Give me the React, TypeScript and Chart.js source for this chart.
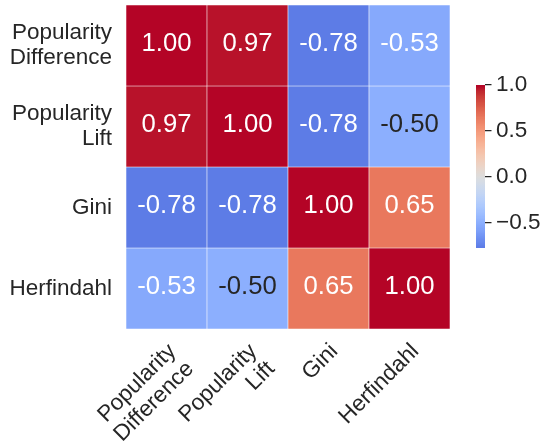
import React, { useEffect, useRef } from 'react';
import { Chart, registerables } from 'chart.js';

Chart.register(...registerables);

// ---------- data ----------
const rowLabels: (string | string[])[] = [['Popularity', 'Difference'], ['Popularity', 'Lift'], 'Gini', 'Herfindahl'];
const colLabels: (string | string[])[] = [['Popularity', 'Difference'], ['Popularity', 'Lift'], 'Gini', 'Herfindahl'];

const rowPopularityDifference = [1.0, 0.97, -0.78, -0.53];
const rowPopularityLift = [0.97, 1.0, -0.78, -0.5];
const rowGini = [-0.78, -0.78, 1.0, 0.65];
const rowHerfindahl = [-0.53, -0.5, 0.65, 1.0];
const matrix = [rowPopularityDifference, rowPopularityLift, rowGini, rowHerfindahl];

const colorbarTicks = [-0.5, 0.0, 0.5, 1.0];

// ---------- colormap (matplotlib coolwarm) ----------
const CW_R = [0.2298057, 0.26623388, 0.30386891, 0.342804478, 0.38301334, 0.424369608, 0.46666708, 0.509635204, 0.552953156, 0.596262162, 0.639176211, 0.681291281, 0.722193294, 0.761464949, 0.798691636, 0.833466556, 0.865395197, 0.897787179, 0.924127593, 0.944468518, 0.958852946, 0.96732803, 0.969954137, 0.966811177, 0.958003065, 0.943660866, 0.923944917, 0.89904617, 0.869186849, 0.834620542, 0.795631745, 0.752534934, 0.705673158];
const CW_G = [0.298717966, 0.353094838, 0.406535296, 0.458757618, 0.50941904, 0.558148092, 0.604562568, 0.648280772, 0.688929332, 0.726149107, 0.759599947, 0.788964712, 0.813952739, 0.834302879, 0.849786142, 0.860207984, 0.86541021, 0.848937047, 0.827384882, 0.800927443, 0.769767752, 0.734132809, 0.694266682, 0.650421156, 0.602842431, 0.551750968, 0.49730856, 0.439559467, 0.378313092, 0.312874446, 0.24128379, 0.157246067, 0.01555616];
const CW_B = [0.753683153, 0.801466763, 0.84495867, 0.883725899, 0.917387822, 0.945619588, 0.968154911, 0.98478814, 0.995375608, 0.999836203, 0.998151185, 0.990363227, 0.976574709, 0.956945269, 0.931688648, 0.901068838, 0.865015717, 0.820880546, 0.774508472, 0.726736146, 0.678007945, 0.628751763, 0.579375448, 0.530263762, 0.481775914, 0.434243684, 0.387970225, 0.343229596, 0.300267182, 0.259301199, 0.220525627, 0.184115123, 0.150232812];

function coolwarmRGB(x: number): number[] {
  let i = Math.floor(x * 256);
  if (i > 255) i = 255;
  if (i < 0) i = 0;
  const t = i / 255;
  const pos = t * 32;
  let k = Math.floor(pos);
  if (k >= 32) k = 31;
  const f = pos - k;
  return [
    CW_R[k] + (CW_R[k + 1] - CW_R[k]) * f,
    CW_G[k] + (CW_G[k + 1] - CW_G[k]) * f,
    CW_B[k] + (CW_B[k + 1] - CW_B[k]) * f,
  ];
}

const allValues = matrix.flat();
const vmin = Math.min(...allValues);
const vmax = Math.max(...allValues);
const vrange = Math.max(vmax, -vmin);
const cmin = (vmin + vrange) / (2 * vrange);
const cmax = (vmax + vrange) / (2 * vrange);

function valueRGB(v: number): number[] {
  const norm = (v - vmin) / (vmax - vmin);
  let idx = Math.floor(norm * 256);
  if (idx > 255) idx = 255;
  if (idx < 0) idx = 0;
  const cc = cmin + (idx * (cmax - cmin)) / 255;
  return coolwarmRGB(cc);
}

function toCss(rgb: number[]): string {
  return `rgb(${Math.round(rgb[0] * 255)}, ${Math.round(rgb[1] * 255)}, ${Math.round(rgb[2] * 255)})`;
}

function cellColor(v: number): string {
  return toCss(valueRGB(v));
}

function textColor(v: number): string {
  const lin = valueRGB(v).map((c) => (c <= 0.03928 ? c / 12.92 : Math.pow((c + 0.055) / 1.055, 2.4)));
  const lum = 0.2126 * lin[0] + 0.7152 * lin[1] + 0.0722 * lin[2];
  return lum > 0.408 ? '#262626' : '#ffffff';
}

const FONT = '"Liberation Sans", Arial, Helvetica, sans-serif';
const TEXT = '#262626';

const annotatePlugin = {
  id: 'heatmapAnnotations',
  afterDatasetsDraw(chart: any) {
    const ctx = chart.ctx;
    ctx.save();
    ctx.font = `25.7px ${FONT}`;
    ctx.textAlign = 'center';
    ctx.textBaseline = 'middle';
    chart.data.datasets.forEach((_ds: any, r: number) => {
      const meta = chart.getDatasetMeta(r);
      meta.data.forEach((el: any, c: number) => {
        const v = matrix[r][c];
        const p = el.getProps(['x', 'y', 'base'], true);
        ctx.fillStyle = textColor(v);
        ctx.fillText(v.toFixed(2), p.x, (p.y + p.base) / 2 - 1.5);
      });
    });
    ctx.restore();
  },
};

export default function App() {
  const heatRef = useRef<HTMLCanvasElement | null>(null);
  const barRef = useRef<HTMLCanvasElement | null>(null);

  useEffect(() => {
    if (!heatRef.current || !barRef.current) return;

    const heat = new Chart(heatRef.current, {
      type: 'bar',
      data: {
        labels: colLabels as any,
        datasets: matrix.map((row, r) => ({
          data: row.map(() => [r, r + 1]) as any,
          backgroundColor: row.map(cellColor),
          borderColor: '#ffffff',
          borderWidth: 0.6,
          borderSkipped: false,
          barPercentage: 1,
          categoryPercentage: 1,
          grouped: false,
        })),
      },
      options: {
        animation: false,
        responsive: false,
        events: [],
        layout: { padding: { left: 0, top: 5, right: 92, bottom: 0 } },
        plugins: { legend: { display: false }, tooltip: { enabled: false } },
        scales: {
          x: {
            type: 'category',
            position: 'bottom',
            offset: true,
            grid: { display: false, drawTicks: false },
            border: { display: false },
            ticks: {
              autoSkip: false,
              minRotation: 45,
              maxRotation: 45,
              padding: 10,
              labelOffset: 6,
              color: TEXT,
              font: { family: FONT, size: 22.5, lineHeight: 25 / 22.5 },
            },
            afterFit: (s: any) => {
              s.height = 115;
              s.paddingLeft = 0;
              s.paddingRight = 0;
            },
          },
          y: {
            type: 'linear',
            position: 'left',
            min: 0,
            max: rowLabels.length,
            reverse: true,
            grid: { display: false, drawTicks: false },
            border: { display: false },
            afterBuildTicks: (s: any) => {
              s.ticks = rowLabels.map((_l, i) => ({ value: i + 0.5 }));
            },
            ticks: {
              padding: 14,
              color: TEXT,
              font: { family: FONT, size: 22.5, lineHeight: 25 / 22.5 },
              callback: (v: any) => rowLabels[Math.floor(Number(v))] as any,
            },
            afterFit: (s: any) => {
              s.width = 126;
              s.paddingTop = 0;
              s.paddingBottom = 0;
            },
          },
        },
      } as any,
      plugins: [annotatePlugin],
    });

    const bar = new Chart(barRef.current, {
      type: 'bar',
      data: {
        labels: [''],
        datasets: [
          {
            data: [[vmin, vmax]] as any,
            backgroundColor: (c: any) => {
              const chart = c.chart;
              const ys = chart.scales && chart.scales.y;
              if (!ys) return cellColor(0);
              const y0 = ys.getPixelForValue(vmin);
              const y1 = ys.getPixelForValue(vmax);
              if (!isFinite(y0) || !isFinite(y1) || y0 === y1) return cellColor(0);
              const g = chart.ctx.createLinearGradient(0, y0, 0, y1);
              const N = 256;
              for (let i = 0; i <= N; i++) {
                const v = vmin + ((vmax - vmin) * i) / N;
                g.addColorStop(i / N, cellColor(v));
              }
              return g;
            },
            borderWidth: 0,
            barPercentage: 1,
            categoryPercentage: 1,
          },
        ],
      },
      options: {
        animation: false,
        responsive: false,
        events: [],
        layout: { padding: { left: 0, top: 85, right: 0, bottom: 196 } },
        plugins: { legend: { display: false }, tooltip: { enabled: false } },
        scales: {
          x: { display: false, offset: true },
          y: {
            type: 'linear',
            position: 'right',
            min: vmin,
            max: vmax,
            grid: { display: true, drawOnChartArea: false, drawTicks: true, tickLength: 6.5, color: TEXT, lineWidth: 1.25 },
            border: { display: false },
            afterBuildTicks: (s: any) => {
              s.ticks = colorbarTicks.map((v) => ({ value: v }));
            },
            ticks: {
              padding: 4.5,
              color: TEXT,
              font: { family: FONT, size: 22.5 },
              callback: (v: any) => {
                const n = Number(v);
                return (n < 0 ? '\u2212' : '') + Math.abs(n).toFixed(1);
              },
            },
            afterFit: (s: any) => {
              s.width = 57;
              s.paddingTop = 0;
              s.paddingBottom = 0;
            },
          },
        },
      } as any,
    });

    return () => {
      heat.destroy();
      bar.destroy();
    };
  }, []);

  return (
    <div style={{ position: 'absolute', left: 0, top: 0, width: 542, height: 444, background: '#ffffff' }}>
      <canvas ref={heatRef} width={542} height={444} style={{ position: 'absolute', left: 0, top: 0 }} />
      <canvas ref={barRef} width={66} height={444} style={{ position: 'absolute', left: 476, top: 0 }} />
    </div>
  );
}
